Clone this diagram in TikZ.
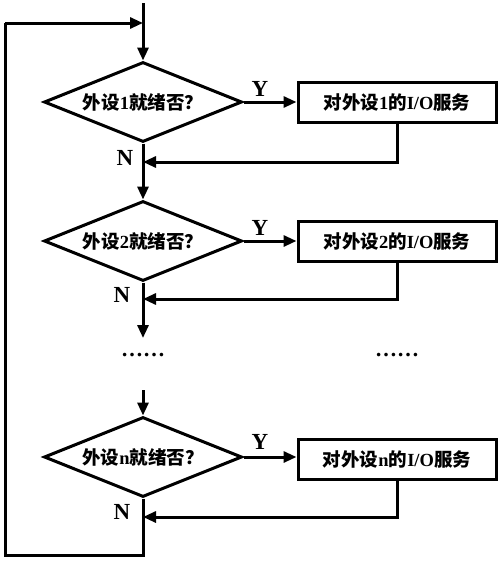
\documentclass[tikz,border=0pt]{standalone}
\usepackage{fontspec}
\setmainfont{Liberation Serif}
\newfontfamily\cjk{Noto Sans CJK SC}
\usetikzlibrary{shapes.geometric,arrows.meta}
\begin{document}
\begin{tikzpicture}[x=1pt,y=-1pt,
  line width=3pt,
  arr/.style={-{Triangle[length=13pt,width=11pt]}},
  decide/.style={draw,diamond,aspect=2.475,inner sep=0pt,minimum width=198pt,minimum height=80pt,font=\fontsize{18.5}{20}\selectfont\bfseries},
  proc/.style={draw,rectangle,inner sep=0pt,minimum width=198pt,minimum height=40pt,font=\fontsize{18.5}{20}\selectfont\bfseries},
  lbl/.style={font=\fontsize{23}{25}\selectfont\bfseries},
  dots/.style={font=\fontsize{22}{24}\selectfont\bfseries}]
\useasboundingbox (0,0) rectangle (502,563);
\node[decide] (d1) at (143,102) {{\cjk 外设}1{\cjk 就绪否？}};
\node[decide] (d2) at (143,241) {{\cjk 外设}2{\cjk 就绪否？}};
\node[decide] (dn) at (143,457) {{\cjk 外设}n{\cjk 就绪否？}};
\node[proc] (b1) at (397,102) {{\cjk 对外设}1{\cjk 的}I/O{\cjk 服务}};
\node[proc] (b2) at (397,241) {{\cjk 对外设}2{\cjk 的}I/O{\cjk 服务}};
\node[proc] (bn) at (397,459) {{\cjk 对外设}n{\cjk 的}I/O{\cjk 服务}};
\coordinate (start) at (143,3);
\coordinate (join) at (143,23);
\coordinate (f1) at (143,162);
\coordinate (f2) at (143,299);
\coordinate (fn) at (143,517);
\coordinate (a2) at (143,338);
\coordinate (a3) at (143,390);
\coordinate (bl) at (143,555);
\coordinate (blc) at (5,555);
\coordinate (tlc) at (5,23);
% main flow
\draw[arr] (start) -- (d1.north);
\draw[arr] (d1.south) -- (d2.north);
\draw[arr] (d2.south) -- (a2);
\draw[arr] (a3) -- (dn.north);
\draw (dn.south) -- (bl) -- (blc) -- (tlc);
\draw[arr] (tlc) -- (join);
% yes branches
\draw[arr] (d1.east) -- (b1.west);
\draw[arr] (d2.east) -- (b2.west);
\draw[arr] (dn.east) -- (bn.west |- dn.east);
% returns
\draw[arr] (b1.south) |- (f1);
\draw[arr] (b2.south) |- (f2);
\draw[arr] (bn.south) |- (fn);
% labels
\node[lbl] (y1) at (260,89) {Y};
\node[lbl] (y2) at (260,228) {Y};
\node[lbl] (yn) at (260,442) {Y};
\node[lbl] (n1) at (125,158) {N};
\node[lbl] (n2) at (122,295) {N};
\node[lbl] (nn) at (122,512) {N};
\node[dots] (dl) at (143,355) {……};
\node[dots] (dr) at (397,355) {……};
\end{tikzpicture}
\end{document}
